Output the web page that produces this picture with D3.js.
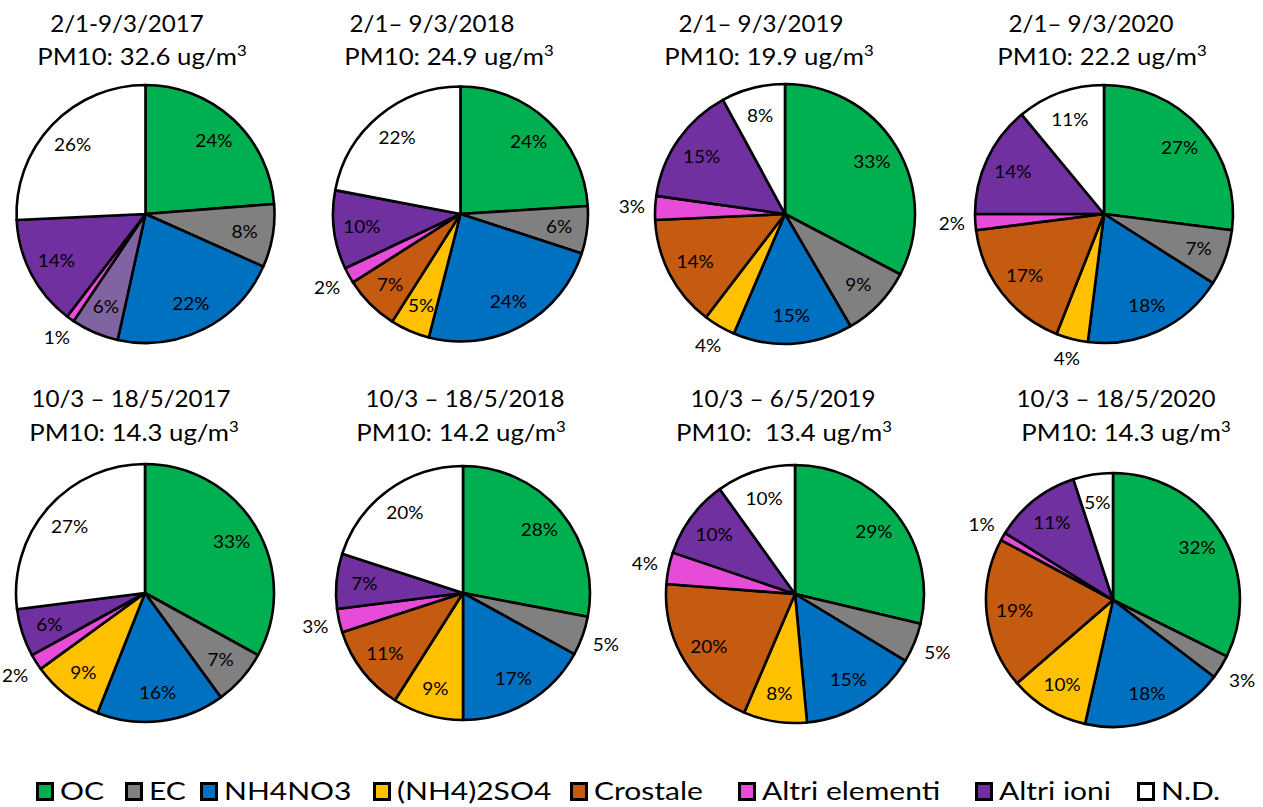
<!DOCTYPE html>
<html>
<head>
<meta charset="utf-8">
<script src="https://cdn.jsdelivr.net/npm/d3@7"></script>
<style>
  html, body { margin: 0; padding: 0; background: #fff; }
  svg { display: block; font-family: Lato, "Open Sans", sans-serif; }
  text { white-space: pre; }
</style>
</head>
<body>
<svg id="chart" width="1263" height="807"></svg>
<script>
// PM10 composition categories (drawn clockwise from 12 o'clock in this order)
const categories = ["OC", "EC", "NH4NO3", "(NH4)2SO4", "Crostale", "Altri elementi", "Altri ioni", "N.D."];

// Period labels and mean PM10 concentrations
const periods = ["2/1-9/3/2017", "2/1\u2013 9/3/2018", "2/1\u2013 9/3/2019", "2/1\u2013 9/3/2020",
                 "10/3 \u2013 18/5/2017", "10/3 \u2013 18/5/2018", "10/3 \u2013 6/5/2019", "10/3 \u2013 18/5/2020"];
const pm10 = ["32.6", "24.9", "19.9", "22.2", "14.3", "14.2", " 13.4", "14.3"];

// Percent shares per period (same order as categories)
const jan2017 = [24, 8, 22, 6, 0, 1, 14, 26];
const jan2018 = [24, 6, 24, 5, 7, 2, 10, 22];
const jan2019 = [33, 9, 15, 4, 14, 3, 15, 8];
const jan2020 = [27, 7, 18, 4, 17, 2, 14, 11];
const mar2017 = [33, 7, 16, 9, 0, 2, 6, 27];
const mar2018 = [28, 5, 17, 9, 11, 3, 7, 20];
const mar2019 = [29, 5, 15, 8, 20, 4, 10, 10];
const mar2020 = [32, 3, 18, 10, 19, 1, 11, 5];
const series = [jan2017, jan2018, jan2019, jan2020, mar2017, mar2018, mar2019, mar2020];

// ---- styling / layout ----
const colors = d3.scaleOrdinal()
  .domain(categories)
  .range(["#00B050", "#808080", "#0070C0", "#FFC000", "#C55A11", "#E64CD8", "#7030A0", "#FFFFFF"]);
// the first panel shows its sulfate share in a lighter purple
const colorOverride = { 0: { "(NH4)2SO4": "#8064A2" } };

// labels drawn outside the pie, per panel
const outsideLabels = [
  ["Altri elementi"],
  ["Altri elementi"],
  ["(NH4)2SO4", "Altri elementi"],
  ["(NH4)2SO4", "Altri elementi"],
  ["Altri elementi"],
  ["EC", "Altri elementi"],
  ["EC", "Altri elementi"],
  ["EC", "Altri elementi"]
];

const panels = [
  { cx: 145.5, cy: 214, r: 129,   t1: 127,  t2: 142,  y1: 32,  y2: 65 },
  { cx: 460.5, cy: 214, r: 127.5, t1: 432,  t2: 449,  y1: 32,  y2: 65 },
  { cx: 785,   cy: 214, r: 130,   t1: 761,  t2: 769,  y1: 32,  y2: 65 },
  { cx: 1104,  cy: 214, r: 129,   t1: 1091, t2: 1102, y1: 32,  y2: 65 },
  { cx: 145,   cy: 593, r: 129,   t1: 131,  t2: 134,  y1: 407, y2: 441 },
  { cx: 463,   cy: 593, r: 127,   t1: 465,  t2: 461,  y1: 407, y2: 441 },
  { cx: 795,   cy: 594, r: 129,   t1: 783,  t2: 784,  y1: 407, y2: 441 },
  { cx: 1113,  cy: 600, r: 127,   t1: 1116, t2: 1126, y1: 407, y2: 441 }
];

// text is set slightly wide, like the original typeface
const labelStretch = 1.15, title1Stretch = 1.05, title2Stretch = 1.12, legendStretch = 1.2;

const svg = d3.select("#chart");

const pie = d3.pie()
  .sort(null)
  .value(d => d.value)
  .startAngle(0)
  .endAngle(2 * Math.PI);

series.forEach((vals, i) => {
  const p = panels[i];
  const rows = categories.map((c, k) => ({ cat: c, value: vals[k] }));
  const arcs = pie(rows).filter(a => a.data.value > 0);
  const arc = d3.arc().innerRadius(0).outerRadius(p.r);
  const over = colorOverride[i] || {};

  const g = svg.append("g").attr("transform", `translate(${p.cx},${p.cy})`);

  g.selectAll("path")
    .data(arcs)
    .join("path")
    .attr("d", arc)
    .attr("fill", d => over[d.data.cat] || colors(d.data.cat))
    .attr("stroke", "#000")
    .attr("stroke-width", 2.6)
    .attr("stroke-linejoin", "round");

  // percentage labels
  g.selectAll("text.lbl")
    .data(arcs)
    .join("text")
    .attr("class", "lbl")
    .attr("font-size", 16.5)
    .attr("fill", "#000")
    .attr("text-anchor", "middle")
    .attr("dominant-baseline", "central")
    .text(d => d.data.value + "%")
    .each(function(d) {
      const mid = (d.startAngle + d.endAngle) / 2;
      const sx = Math.sin(mid), sy = -Math.cos(mid);
      let dist;
      if (outsideLabels[i].includes(d.data.cat)) {
        const hw = this.getComputedTextLength() * labelStretch / 2, hh = 7;
        dist = p.r + 10 + Math.abs(sx) * hw + Math.abs(sy) * hh;
      } else {
        dist = p.r * 0.78;
      }
      d3.select(this).attr("transform",
        `translate(${sx * dist},${sy * dist}) scale(${labelStretch},1)`);
    });

  // two-line title
  const titleSize = 23;
  svg.append("text")
    .attr("transform", `translate(${p.t1},${p.y1}) scale(${title1Stretch},1)`)
    .attr("text-anchor", "middle")
    .attr("font-size", titleSize)
    .attr("fill", "#000")
    .text(periods[i]);

  const t2 = svg.append("text")
    .attr("transform", `translate(${p.t2},${p.y2}) scale(${title2Stretch},1)`)
    .attr("text-anchor", "middle")
    .attr("font-size", titleSize)
    .attr("fill", "#000");
  t2.append("tspan").text(`PM10: ${pm10[i]} ug/m`);
  t2.append("tspan").attr("font-size", titleSize * 0.65).attr("dy", -9).text("3");
});

// legend
const legendX = [36, 125, 200, 373, 570, 738, 975, 1137];
const legendY = 792;
const legend = svg.append("g");
categories.forEach((c, k) => {
  const x = legendX[k];
  legend.append("rect")
    .attr("x", x + 1.5).attr("y", legendY - 8.5)
    .attr("width", 15).attr("height", 16)
    .attr("fill", colors(c))
    .attr("stroke", "#000")
    .attr("stroke-width", 3);
  legend.append("text")
    .attr("transform", `translate(${x + 24},${legendY + 8}) scale(${legendStretch},1)`)
    .attr("font-size", 25)
    .attr("fill", "#000")
    .text(c);
});
</script>
</body>
</html>
